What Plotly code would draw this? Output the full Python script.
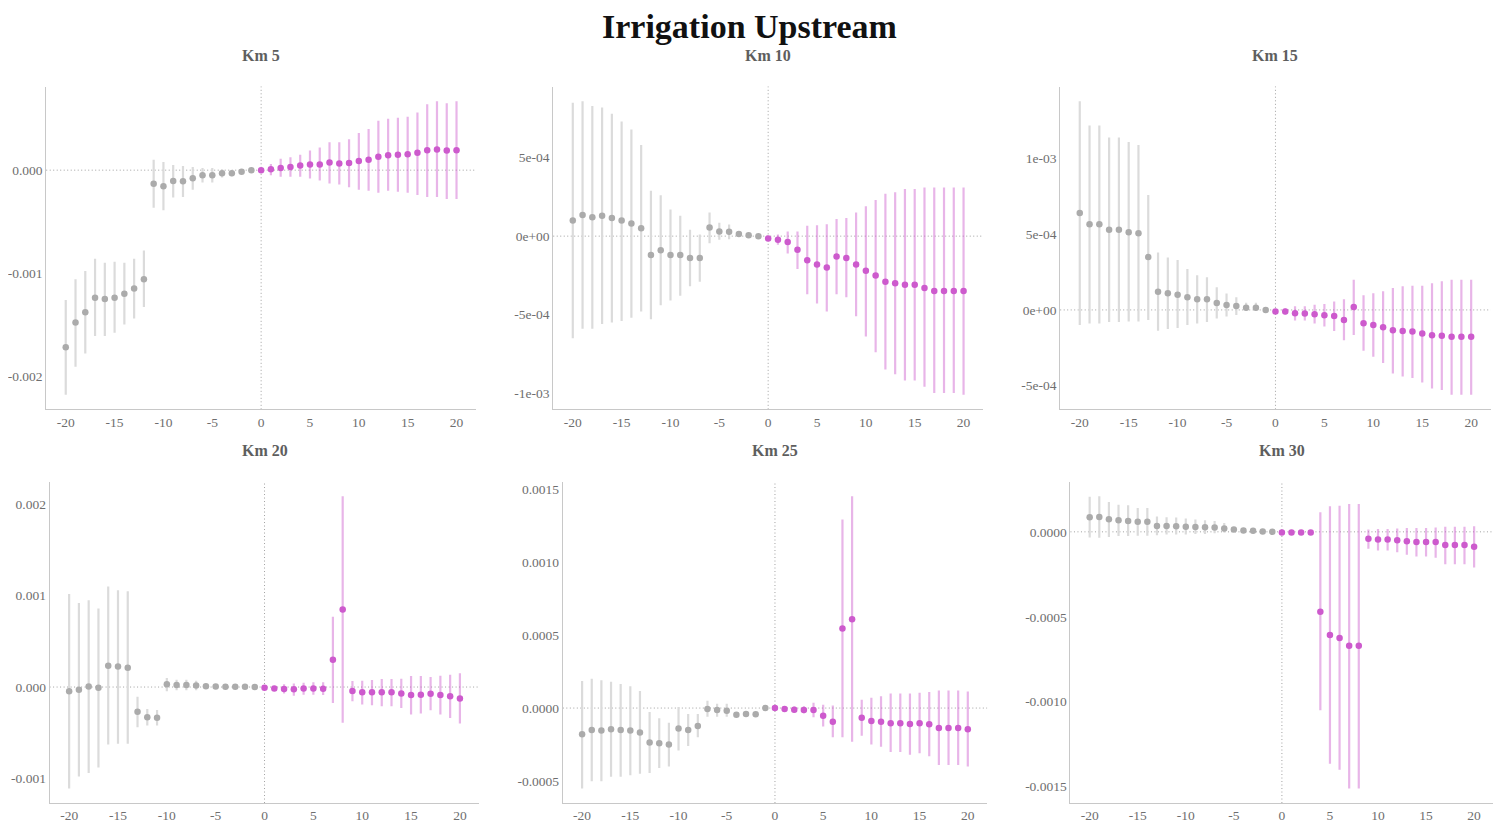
import plotly.graph_objects as go

# ---------------- data ----------------
event_time = list(range(-20, 21))
x_tick_vals = [-20, -15, -10, -5, 0, 5, 10, 15, 20]
panel_titles = ["Km 5", "Km 10", "Km 15", "Km 20", "Km 25", "Km 30"]
main_title = "Irrigation Upstream"

km5_est = [-0.00172, -0.00148, -0.00138, -0.00124, -0.00125, -0.00124, -0.00120, -0.00115, -0.00106, -0.000133,
           -0.000155, -0.000104, -0.000107, -0.000078, -0.000049, -0.000049, -0.00003, -0.00003, -0.000016, 0.0,
           0.0, 0.00001, 0.00002, 0.00003, 0.000045, 0.000055, 0.000055, 0.000074, 0.000065, 0.00007,
           0.00009, 0.0001, 0.00013, 0.000146, 0.00015, 0.000155, 0.00017, 0.000194, 0.0002, 0.00019, 0.000194]
km5_lo = [-0.00218, -0.00191, -0.00178, -0.00161, -0.00161, -0.00158, -0.0015, -0.00144, -0.00133, -0.000366,
          -0.00039, -0.000265, -0.00026, -0.00019, -0.00012, -0.00012, -0.00007, -0.00006, -0.00004, 0.0,
          0.0, -0.00005, -0.000065, -0.000065, -0.000065, -0.00008, -0.0001, -0.00013, -0.00014, -0.000165,
          -0.00019, -0.0002, -0.00022, -0.0002, -0.00021, -0.00022, -0.00024, -0.00026, -0.00026, -0.00028, -0.00028]
km5_hi = [-0.00126, -0.00106, -0.00098, -0.00086, -0.0009, -0.00089, -0.0009, -0.00086, -0.00078, 0.0001,
          0.00008, 0.00005, 0.00004, 0.00003, 0.00002, 0.00002, 0.00001, 0.0, 0.000008, 0.0,
          0.0, 0.00006, 0.00011, 0.000126, 0.00015, 0.00019, 0.00022, 0.00027, 0.00027, 0.0003,
          0.00036, 0.0004, 0.00048, 0.0005, 0.00051, 0.00052, 0.00056, 0.00064, 0.00067, 0.00065, 0.00067]

km10_est = [0.0001, 0.000134, 0.00012, 0.00013, 0.000115, 0.0001, 0.00008, 0.00005, -0.00012, -0.00009,
            -0.00012, -0.00012, -0.00014, -0.00014, 0.000055, 0.00003, 0.000028, 0.000013, 0.000006, 0.0,
            -0.000015, -0.000023, -0.000038, -0.000087, -0.000153, -0.00018, -0.0002, -0.00013, -0.00014, -0.00018,
            -0.00022, -0.00025, -0.00029, -0.0003, -0.00031, -0.00031, -0.00033, -0.00035, -0.00035, -0.00035, -0.00035]
km10_lo = [-0.00065, -0.00059, -0.00059, -0.00056, -0.00055, -0.00054, -0.00052, -0.00048, -0.00053, -0.00044,
           -0.00041, -0.00038, -0.00032, -0.00029, -0.000045, -0.000023, -0.00002, 0.0, -0.000005, 0.0,
           -0.000028, -0.000055, -0.00011, -0.00021, -0.00037, -0.00043, -0.00048, -0.00037, -0.00039, -0.00051,
           -0.00064, -0.00074, -0.00085, -0.00088, -0.00092, -0.00092, -0.00096, -0.001, -0.001, -0.001, -0.00101]
km10_hi = [0.00085, 0.00086, 0.00083, 0.00082, 0.00078, 0.00073, 0.00068, 0.00058, 0.00029, 0.00026,
           0.00017, 0.00013, 0.00004, 0.00001, 0.00015, 0.000085, 0.000074, 0.000026, 0.000015, 0.0,
           -0.000004, 0.00001, 0.00003, 0.00003, 0.000066, 0.00007, 0.000076, 0.00011, 0.000115, 0.00015,
           0.00019, 0.00023, 0.00027, 0.00028, 0.0003, 0.0003, 0.00031, 0.00031, 0.00031, 0.00031, 0.00031]

km15_est = [0.00064, 0.000566, 0.000566, 0.00053, 0.00053, 0.000513, 0.000507, 0.00035, 0.00012, 0.00011,
            0.0001, 0.000084, 0.00007, 0.00007, 0.000046, 0.000033, 0.000026, 0.000015, 0.000015, 0.0,
            -0.000011, -0.000011, -0.000022, -0.000024, -0.000029, -0.000035, -0.00004, -0.000066, 0.00002, -0.000088,
            -0.0001, -0.000115, -0.000134, -0.00014, -0.000143, -0.000156, -0.000167, -0.00017, -0.000178, -0.000178, -0.000178]
km15_lo = [-0.0001, -0.00009, -0.00009, -0.00008, -0.00008, -0.000077, -0.000077, -0.000066, -0.000137, -0.000126,
           -0.00012, -0.0001, -0.00009, -0.00008, -0.000057, -0.000044, -0.000033, -0.000005, -0.000005, 0.0,
           -0.000015, -0.00003, -0.00007, -0.00007, -0.00009, -0.00011, -0.00014, -0.0002, -0.000165, -0.00027,
           -0.00031, -0.00035, -0.00042, -0.00044, -0.00045, -0.00048, -0.00052, -0.00053, -0.00056, -0.00056, -0.00056]
km15_hi = [0.00138, 0.00122, 0.00122, 0.00114, 0.00114, 0.00111, 0.00109, 0.00076, 0.00038, 0.000346,
           0.00033, 0.00027, 0.00023, 0.000216, 0.00015, 0.000108, 0.000084, 0.000048, 0.000048, 0.0,
           -0.000007, 0.00001, 0.000024, 0.000024, 0.000035, 0.00004, 0.000055, 0.00007, 0.0002, 0.000097,
           0.00011, 0.000123, 0.000145, 0.000156, 0.00016, 0.00016, 0.000176, 0.00019, 0.0002, 0.0002, 0.0002]

km20_est = [-0.000047, -0.00003, 0.000007, -0.000007, 0.000233, 0.000226, 0.00021, -0.00027, -0.00033, -0.000335,
            0.00003, 0.000022, 0.000022, 0.000018, 0.00001, 0.000007, 0.000004, 0.000004, 0.000004, 0.0,
            -0.000007, -0.000015, -0.00002, -0.000025, -0.000015, -0.000015, -0.000018, 0.0003, 0.00085, -0.000044,
            -0.000058, -0.000058, -0.000058, -0.000058, -0.00007, -0.000087, -0.000084, -0.000073, -0.000087, -0.0001, -0.000124]
km20_lo = [-0.00111, -0.00098, -0.00094, -0.00088, -0.00063, -0.00062, -0.00062, -0.00044, -0.00042, -0.00042,
           -0.000047, -0.000036, -0.000036, -0.000036, -0.000015, -0.000005, -0.000004, -0.000004, -0.000004, 0.0,
           -0.000012, -0.00004, -0.00007, -0.000095, -0.000084, -0.000084, -0.000088, -0.000175, -0.00039, -0.000156,
           -0.00019, -0.0002, -0.00021, -0.00021, -0.00023, -0.0003, -0.00029, -0.000255, -0.0003, -0.00034, -0.0004]
km20_hi = [0.00102, 0.00092, 0.00095, 0.00086, 0.0011, 0.00106, 0.00105, -0.000105, -0.00024, -0.00025,
           0.0001, 0.00008, 0.00008, 0.00007, 0.000035, 0.000019, 0.000012, 0.000012, 0.000012, 0.0,
           -0.000002, 0.00001, 0.00003, 0.00004, 0.000047, 0.000052, 0.000052, 0.00077, 0.00209, 0.000066,
           0.00007, 0.000076, 0.000087, 0.000087, 0.00009, 0.00012, 0.00012, 0.00011, 0.000124, 0.000135, 0.00015]

km25_est = [-0.00018, -0.00015, -0.000154, -0.000145, -0.00015, -0.000154, -0.000168, -0.000236, -0.00024, -0.00025,
            -0.00014, -0.00015, -0.000122, -0.000007, -0.000014, -0.000018, -0.000045, -0.00004, -0.000043, 0.0,
            0.0, -0.000007, -0.000011, -0.000014, -0.000014, -0.000052, -0.000093, 0.000544, 0.000608, -0.000066,
            -0.000088, -0.000093, -0.000104, -0.000104, -0.000109, -0.000104, -0.00011, -0.000136, -0.000136, -0.000136, -0.000145]
km25_lo = [-0.00055, -0.0005, -0.0005, -0.00047, -0.00047, -0.00046, -0.00045, -0.000444, -0.00041, -0.0004,
           -0.00029, -0.00026, -0.0002, -0.00006, -0.00006, -0.00006, -0.00005, -0.000045, -0.000048, 0.0,
           -0.000004, -0.000012, -0.000032, -0.000036, -0.000063, -0.000127, -0.0002, -0.0002, -0.00023, -0.00019,
           -0.00025, -0.000265, -0.0003, -0.0003, -0.00032, -0.00031, -0.00033, -0.00039, -0.00039, -0.00039, -0.0004]
km25_hi = [0.000186, 0.0002, 0.00019, 0.00018, 0.000165, 0.00015, 0.000116, -0.000027, -0.00007, -0.0001,
           0.000007, -0.00004, -0.00004, 0.00005, 0.00003, 0.00003, -0.00004, -0.000035, -0.000038, 0.0,
           0.000004, -0.000002, 0.00001, 0.000012, 0.000036, 0.000023, 0.000018, 0.00129, 0.00145, 0.000057,
           0.00007, 0.00008, 0.0001, 0.0001, 0.0001, 0.000105, 0.00011, 0.00012, 0.00012, 0.00012, 0.000113]

km30_est = [0.000086, 0.000088, 0.000074, 0.000068, 0.000064, 0.000059, 0.000059, 0.000035, 0.000035, 0.000033,
            0.00003, 0.000029, 0.000027, 0.000025, 0.00002, 0.000014, 0.000008, 0.000006, 0.000002, 0.0,
            -0.000004, -0.000004, -0.000004, -0.000004, -0.00047, -0.000607, -0.000625, -0.00067, -0.00067, -0.000041,
            -0.000045, -0.000045, -0.00005, -0.000055, -0.00006, -0.00006, -0.00006, -0.000078, -0.000078, -0.000078, -0.000088]
km30_lo = [-0.000033, -0.000035, -0.00003, -0.000025, -0.000025, -0.000023, -0.000023, -0.00002, -0.000016, -0.000016,
           -0.000016, -0.000012, -0.000012, -0.000008, -0.000004, 0.000004, 0.000004, 0.000003, 0.0, 0.0,
           -0.000006, -0.000006, -0.000006, -0.000006, -0.00105, -0.001365, -0.0014, -0.00151, -0.00151, -0.0001,
           -0.00011, -0.00011, -0.00012, -0.000135, -0.000145, -0.000145, -0.000152, -0.00019, -0.00019, -0.00019, -0.00021]
km30_hi = [0.000207, 0.00021, 0.000176, 0.00016, 0.000156, 0.00014, 0.00014, 0.00009, 0.000086, 0.000084,
           0.000078, 0.000072, 0.000068, 0.000064, 0.000052, 0.000026, 0.000014, 0.00001, 0.000004, 0.0,
           -0.000002, -0.000002, -0.000002, -0.000002, 0.000115, 0.00015, 0.000154, 0.000164, 0.000164, 0.000014,
           0.000016, 0.000016, 0.00002, 0.000023, 0.000023, 0.000023, 0.000025, 0.00003, 0.00003, 0.00003, 0.000033]

y_tick_vals = [
    [0.0, -0.001, -0.002],
    [0.0005, 0.0, -0.0005, -0.001],
    [0.001, 0.0005, 0.0, -0.0005],
    [0.002, 0.001, 0.0, -0.001],
    [0.0015, 0.001, 0.0005, 0.0, -0.0005],
    [0.0, -0.0005, -0.001, -0.0015],
]
y_tick_text = [
    ["0.000", "-0.001", "-0.002"],
    ["5e-04", "0e+00", "-5e-04", "-1e-03"],
    ["1e-03", "5e-04", "0e+00", "-5e-04"],
    ["0.002", "0.001", "0.000", "-0.001"],
    ["0.0015", "0.0010", "0.0005", "0.0000", "-0.0005"],
    ["0.0000", "-0.0005", "-0.0010", "-0.0015"],
]

series = [(km5_est, km5_lo, km5_hi), (km10_est, km10_lo, km10_hi), (km15_est, km15_lo, km15_hi),
          (km20_est, km20_lo, km20_hi), (km25_est, km25_lo, km25_hi), (km30_est, km30_lo, km30_hi)]

# ---------------- layout geometry (screen pixels; page body adds an 8px offset) ----------------
OFF = 8
W, H = 1496, 815
plot_px = [
    (42.3, 473.3, 86.7, 410.3),
    (550.7, 981.7, 86.7, 410.3),
    (1059.0, 1490.7, 86.7, 410.3),
    (45.7, 476.7, 482.7, 805.0),
    (560.3, 985.7, 482.7, 805.0),
    (1069.3, 1493.3, 482.7, 805.0),
]


def px_x(X):
    return (X - OFF) / W


def px_y(Y):
    return 1 - (Y - OFF) / H


FONT = "Liberation Serif, Times New Roman, serif"
GRAY_PT = "#ABABAB"
GRAY_CI = "#DBDBDB"
MAG_PT = "#CD5ACD"
MAG_CI = "rgba(205,90,205,0.45)"
TICK_COL = "#6E6E6E"
REF_LINE = dict(color="#A0A0A0", width=1, dash="1px,2.5px")

fig = go.Figure()
layout = dict(
    width=W, height=H,
    margin=dict(l=0, r=0, t=0, b=0),
    paper_bgcolor="white", plot_bgcolor="white",
    showlegend=False,
    font=dict(family=FONT, color=TICK_COL, size=13),
    shapes=[], annotations=[],
)

for i, (est, lo, hi) in enumerate(series):
    n = i + 1
    xa = "x" if n == 1 else f"x{n}"
    ya = "y" if n == 1 else f"y{n}"
    for pre in (True, False):
        idx = [k for k, t in enumerate(event_time) if (t < 0) == pre]
        xs = [event_time[k] for k in idx]
        ys = [est[k] for k in idx]
        up = [max(0.0, hi[k] - est[k]) for k in idx]
        dn = [max(0.0, est[k] - lo[k]) for k in idx]
        fig.add_trace(go.Scatter(
            x=xs, y=ys, mode="markers", xaxis=xa, yaxis=ya,
            marker=dict(color=GRAY_PT if pre else MAG_PT, size=6.5, line=dict(width=0)),
            error_y=dict(type="data", array=up, arrayminus=dn, symmetric=False,
                         color=GRAY_CI if pre else MAG_CI, thickness=2.2, width=0),
            hoverinfo="x+y",
        ))

    x0, x1, yt, yb = plot_px[i]
    xdom = [px_x(x0), px_x(x1)]
    ydom = [px_y(yb), px_y(yt)]
    ymin, ymax = min(lo), max(hi)
    span = ymax - ymin
    yr = [ymin - 0.05 * span, ymax + 0.05 * span]

    axis_common = dict(showgrid=False, zeroline=False, showline=True, linecolor="#C8C8C8",
                       linewidth=1, ticks="", tickfont=dict(family=FONT, color=TICK_COL, size=13.5))
    layout["xaxis" if n == 1 else f"xaxis{n}"] = dict(
        domain=xdom, anchor=ya, range=[-22, 22], tickvals=x_tick_vals,
        ticktext=[str(v) for v in x_tick_vals], **axis_common)
    layout["yaxis" if n == 1 else f"yaxis{n}"] = dict(
        domain=ydom, anchor=xa, range=yr, tickvals=y_tick_vals[i], ticktext=y_tick_text[i],
        **axis_common)

    # dotted reference lines at y=0 and x=0
    layout["shapes"].append(dict(type="line", xref=f"{xa} domain", yref=ya, x0=0, x1=1, y0=0, y1=0,
                                 line=REF_LINE, layer="below"))
    layout["shapes"].append(dict(type="line", xref=xa, yref=f"{ya} domain", x0=0, x1=0, y0=0, y1=1,
                                 line=REF_LINE, layer="below"))

    # panel title
    layout["annotations"].append(dict(
        text=f"<b>{panel_titles[i]}</b>", xref="paper", yref="paper",
        x=px_x((x0 + x1) / 2), y=px_y(yt - 31), xanchor="center", yanchor="middle",
        showarrow=False, font=dict(family=FONT, size=16, color="#5E5E5E")))

layout["annotations"].append(dict(
    text=f"<b>{main_title}</b>", xref="paper", yref="paper", x=px_x(747), y=px_y(27),
    xanchor="center", yanchor="middle", showarrow=False,
    font=dict(family=FONT, size=34, color="#111111")))

fig.update_layout(**layout)
fig.write_html("out.html")
